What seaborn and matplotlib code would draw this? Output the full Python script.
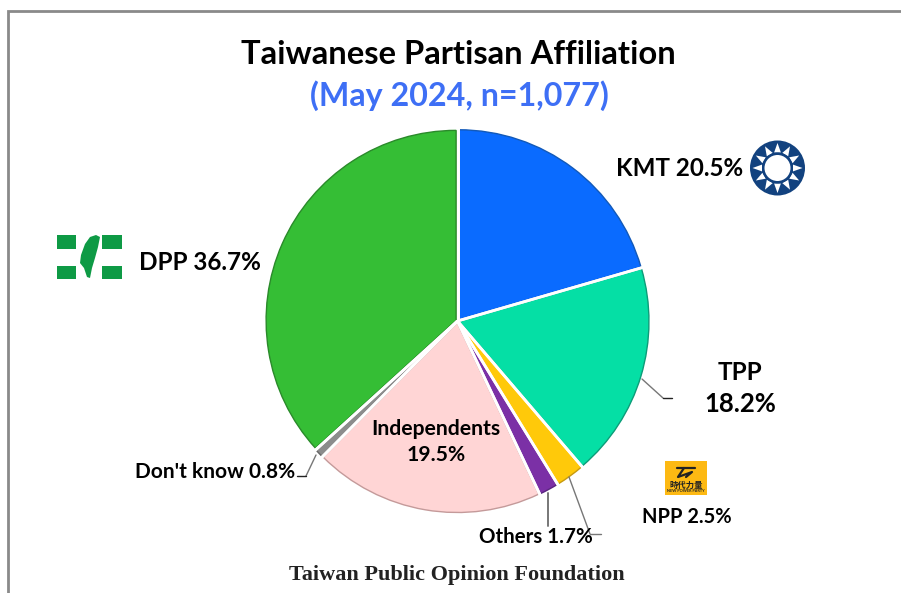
import numpy as np
import matplotlib
matplotlib.use("Agg")
import matplotlib.pyplot as plt
from matplotlib.patches import Rectangle, Circle, Polygon
import seaborn as sns

categories = ["KMT", "TPP", "NPP", "Others", "Independents", "Don't know", "DPP"]
values = [20.5, 18.2, 2.5, 1.7, 19.5, 0.8, 36.7]
colors = ["#0A6BFF", "#05DFA5", "#FFC90A", "#7B30A6", "#FFD5D5", "#8C8C8C", "#35BE35"]
edges = ["#1259B8", "#0C9C78", "#C79A10", "#5A2480", "#C49A9A", "#666666", "#2A8A2A"]
title = "Taiwanese Partisan Affiliation"
subtitle = "(May 2024, n=1,077)"
footer = "Taiwan Public Opinion Foundation"

sns.set_theme(style="white")
plt.rcParams["font.family"] = ["Lato", "DejaVu Sans"]

W, H = 901, 593
fig = plt.figure(figsize=(W / 100, H / 100), dpi=100, facecolor="white")

# pie is drawn on its own axes (y up) placed in pixel position
R = 190
cx, cy = 457.5, 321
pad = 1.06
pax = fig.add_axes([(cx - R * pad) / W, 1 - (cy + R * pad) / H, 2 * R * pad / W, 2 * R * pad / H])
wedges, _ = pax.pie(values, colors=colors, startangle=90, counterclock=False, radius=1,
                    explode=[0.008] * len(values),
                    wedgeprops=dict(linewidth=1.0))
for w, e in zip(wedges, edges):
    w.set_edgecolor(e)
for w in wedges:
    for a in (w.theta1, w.theta2):
        t = np.deg2rad(a)
        pax.plot([0, 1.04 * np.cos(t)], [0, 1.04 * np.sin(t)], color="white", lw=2.0, zorder=5,
                 solid_capstyle="butt")
pax.set_xlim(-pad, pad)
pax.set_ylim(-pad, pad)
pax.axis("off")

ax = fig.add_axes([0, 0, 1, 1], zorder=3)
ax.patch.set_alpha(0)
ax.set_xlim(0, W)
ax.set_ylim(H, 0)
ax.axis("off")

# frame
ax.plot([7.5, 7.5, W], [H, 11, 11], color="#8A8A8A", lw=2, solid_joinstyle="miter", clip_on=False)

def label(x, y, s, size, color="black", **kw):
    ax.text(x, y, s, fontsize=size, color=color, fontweight="bold", ha="center", va="center", **kw)

label(458, 54, title, 23.6)
label(459, 96, subtitle, 23.2, color="#3E6FF5")
label(680, 169, "KMT 20.5%", 17.4)
label(200, 262, "DPP 36.7%", 17.5)
label(740, 372, "TPP", 17.5)
label(740, 404, "18.2%", 18.5)
label(436, 429, "Independents", 15.2)
label(436, 455, "19.5%", 15.2)
label(215, 472, "Don't know 0.8%", 15)
label(536, 537, "Others 1.7%", 14.8)
label(687, 517, "NPP 2.5%", 14.4)
ax.text(457, 575, footer, fontsize=16, fontweight="bold", family="Liberation Serif",
        color="#222222", ha="center", va="center")

# leader lines
lc = "#777777"
ax.plot([642, 663], [379, 398], color=lc, lw=1)
ax.plot([663, 672], [398, 398], color="#222222", lw=1)
ax.plot([569, 590], [477, 534], color=lc, lw=1)
ax.plot([590, 601], [534, 534], color=lc, lw=1)
ax.plot([548, 548], [493, 526], color=lc, lw=1.4)
ax.plot([316, 306], [455, 476], color=lc, lw=1)
ax.plot([306, 297], [476, 476], color="#222222", lw=1)

# DPP logo
g = "#0E9A45"
for x, y, w, h in [(57, 235, 19, 14), (102, 235, 20, 14), (57, 266, 19, 13), (102, 266, 20, 13)]:
    ax.add_patch(Rectangle((x, y), w, h, color=g, lw=0))
ax.add_patch(Polygon([(96, 235), (100, 237), (98, 247), (95, 258), (92, 268), (90, 278), (87, 277),
                      (84, 268), (80, 263), (81, 255), (85, 244), (90, 237)], color=g, lw=0))

# KMT logo
kc, ky, kr = 777.5, 168, 27.5
navy = "#12427F"
ax.add_patch(Circle((kc, ky), kr, color=navy, lw=0))
for a in np.deg2rad(np.arange(0, 360, 30)):
    ux, uy = np.cos(a), np.sin(a)
    px, py = -uy, ux
    ax.add_patch(Polygon([(kc + ux * 25, ky + uy * 25),
                          (kc + ux * 15.5 + px * 3.4, ky + uy * 15.5 + py * 3.4),
                          (kc + ux * 15.5 - px * 3.4, ky + uy * 15.5 - py * 3.4)], color="white", lw=0))
ax.add_patch(Circle((kc, ky), 15.5, color=navy, lw=0))
ax.add_patch(Circle((kc, ky), 13, color="white", lw=0))

# NPP logo
ax.add_patch(Rectangle((665, 461), 42, 34, color="#FDB913", lw=0))
ax.plot([677, 695], [468, 468], color="#222222", lw=1.6)
ax.plot([684, 678, 692, 686], [468, 477, 472, 477], color="#222222", lw=1.6)
ax.text(686, 485, "時代力量", fontsize=6, fontweight="bold", family="Noto Sans CJK TC",
        color="#222222", ha="center", va="center")
ax.text(686, 491.5, "NEW POWER PARTY", fontsize=2.8, fontweight="bold", color="#222222",
        ha="center", va="center")

fig.savefig("out.png", dpi=100, facecolor="white")
